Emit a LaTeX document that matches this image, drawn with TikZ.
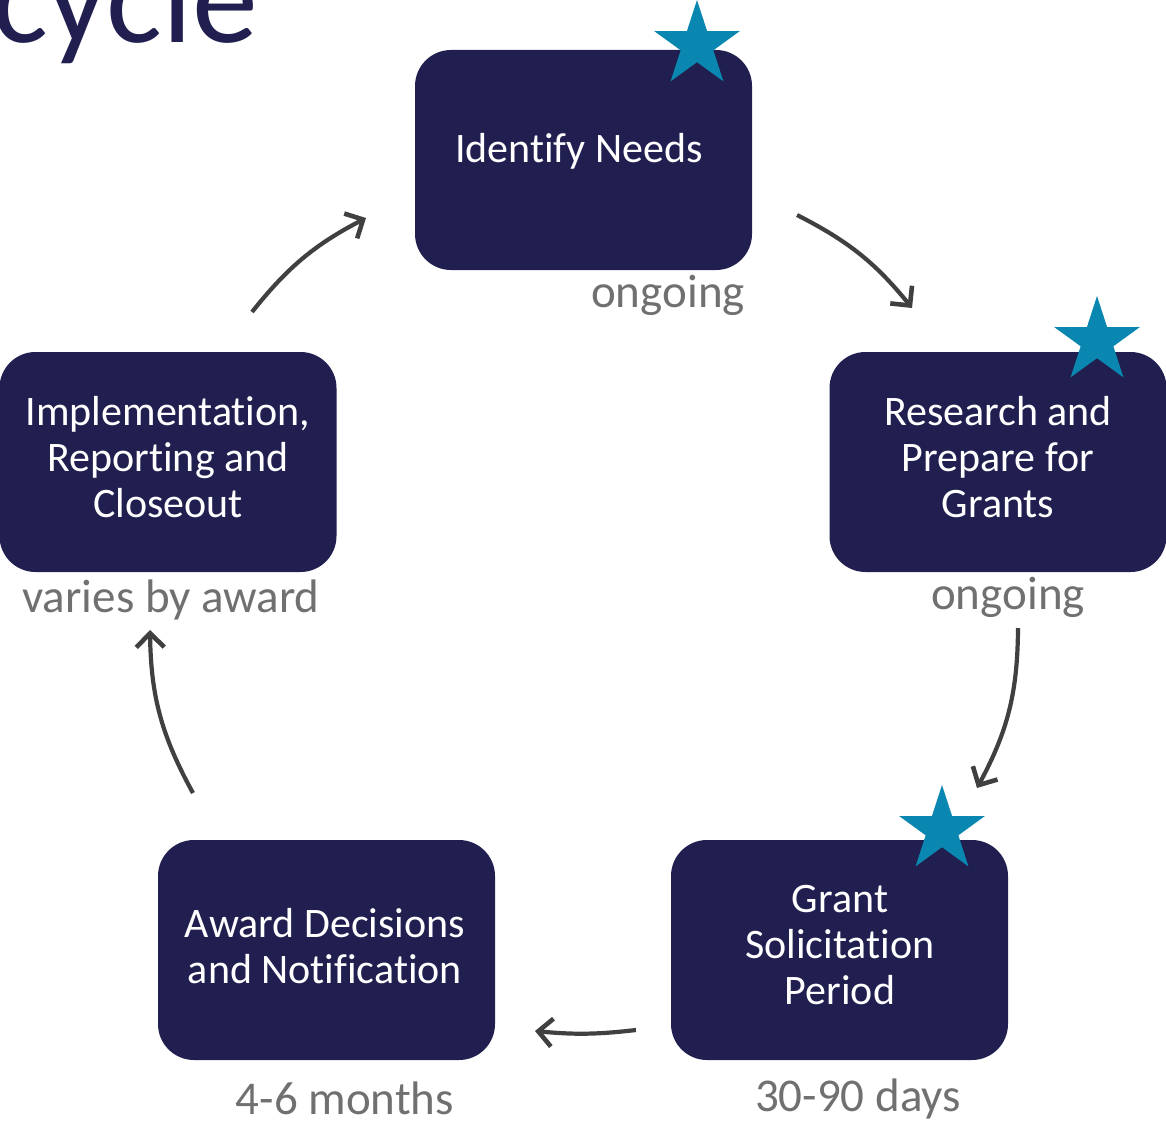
\documentclass[tikz,border=0pt]{standalone}
\usepackage{fontspec}
\setmainfont{Carlito}[Ligatures={NoCommon}]
\usetikzlibrary{arrows.meta,shapes.geometric}
\definecolor{navy}{HTML}{201F50}
\definecolor{starblue}{HTML}{0A87B0}
\definecolor{labelgray}{HTML}{707070}
\definecolor{arrowgray}{HTML}{404040}
\tikzset{
  stagebox/.style={fill=navy, rounded corners=36pt, minimum width=337pt, minimum height=220pt, inner sep=0pt},
  stagetext/.style={text=white, align=center, font=\fontsize{42}{46}\selectfont},
  timelabel/.style={text=labelgray, font=\fontsize{47}{52}\selectfont, inner sep=0pt},
  starmark/.style={star, star points=5, star point ratio=2.618, fill=starblue, minimum size=90pt, inner sep=0pt},
  cyclearrow/.style={draw=arrowgray, line width=4.2pt, -{Straight Barb[length=14pt,width=28pt,line width=4.6pt]}, bend left=#1},
}
\begin{document}
\begin{tikzpicture}[x=1pt,y=-1pt]
\useasboundingbox (0,0) rectangle (1166,1124);
\begin{scope}
\clip (0,0) rectangle (1166,1124);
\node[anchor=base east, text=navy, font=\fontsize{132}{140}\selectfont, inner sep=0pt] (title) at (258,43) {cycle};
\end{scope}
% boxes
\node[stagebox] (b1) at (583.5,160) {};
\node[stagebox] (b2) at (998,462) {};
\node[stagebox] (b3) at (839.5,950) {};
\node[stagebox] (b4) at (326.5,950) {};
\node[stagebox] (b5) at (168,462) {};
% texts
\node[stagetext] (t1) at (579,151) {Identify Needs};
\node[stagetext] (t2) at (998,457) {Research and\\Prepare for\\Grants};
\node[stagetext] (t3) at (840,945) {Grant\\Solicitation\\Period};
\node[stagetext] (t4) at (325,946) {Award Decisions\\and Notification};
\node[stagetext] (t5) at (168,457) {Implementation,\\Reporting and\\Closeout};
% stars
\node[starmark] (s1) at (697,45) {};
\node[starmark] (s2) at (1097,341) {};
\node[starmark] (s3) at (942,830) {};
% labels
\node[timelabel] (l1) at (668,295) {ongoing};
\node[timelabel] (l2) at (1008,597) {ongoing};
\node[timelabel] (l3) at (858,1099) {30-90 days};
\node[timelabel] (l4) at (345,1098) {4-6 months};
\node[timelabel] (l5) at (171,600) {varies by award};
% arrow endpoints
\coordinate (a1s) at (797,215); \coordinate (a1e) at (912,308);
\coordinate (a2s) at (1018,628); \coordinate (a2e) at (977,788);
\coordinate (a3s) at (636,1030); \coordinate (a3e) at (535,1031);
\coordinate (a4s) at (193,793); \coordinate (a4e) at (150,630);
\coordinate (a5s) at (252,312); \coordinate (a5e) at (366,218);
\draw[cyclearrow=12] (a1s) to (a1e);
\draw[cyclearrow=14] (a2s) to (a2e);
\draw[cyclearrow=6] (a3s) to (a3e);
\draw[cyclearrow=14] (a4s) to (a4e);
\draw[cyclearrow=12] (a5s) to (a5e);
\end{tikzpicture}
\end{document}
